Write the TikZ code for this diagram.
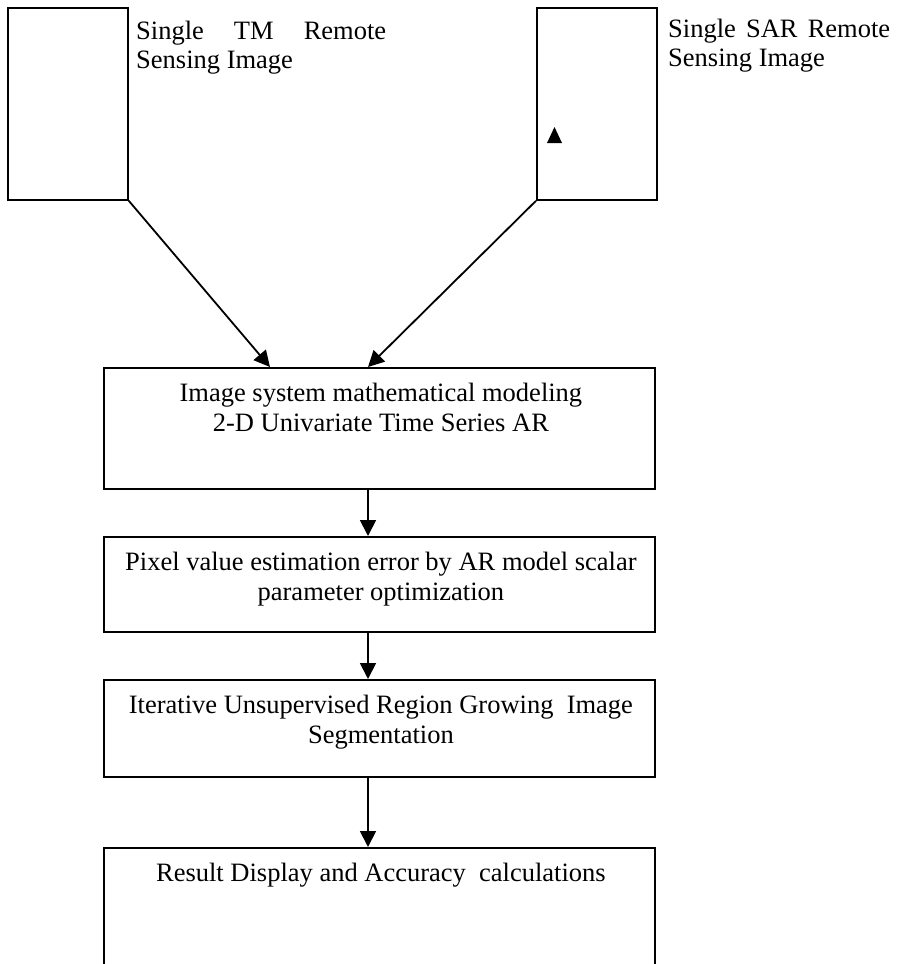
\documentclass[tikz,border=0pt]{standalone}
\usepackage{fontspec}
\setmainfont{Liberation Serif}
\usetikzlibrary{arrows.meta,calc}

\tikzset{
  box/.style={draw, line width=1.8pt, minimum width=#1, inner sep=0pt, anchor=north west},
  box/.default=551pt,
  srcbox/.style={draw, line width=1.8pt, minimum width=120pt, minimum height=192pt, inner sep=0pt, anchor=north west},
  lbl/.style={inner sep=0pt, anchor=north, align=center, font=\fontsize{26.5}{30}\selectfont},
  side/.style={inner sep=0pt, anchor=north west, align=left, font=\fontsize{26.5}{29}\selectfont},
  arr/.style={line width=1.8pt, -{Triangle[length=16pt,width=16pt]}},
}

\begin{document}
\begin{tikzpicture}[x=1pt,y=-1pt]
\useasboundingbox (0,0) rectangle (897,964);

% input images
\node[srcbox] (tm) at (7,7) {};
\node[srcbox] (sar) at (536,7) {};
\fill (547,143) -- (554.5,127) -- (562,143) -- cycle;

\node[side] (tmt) at (136,21) {\makebox[250pt][s]{Single\hfill TM\hfill Remote}\\Sensing Image};
\node[side] (sart) at (668,19) {\makebox[222pt][s]{Single\hfill SAR\hfill Remote}\\Sensing Image};

% processing chain
\node[box, minimum height=121pt] (b1) at (103,367) {};
\node[box, minimum height=95pt] (b2) at (103,536) {};
\node[box, minimum height=97pt] (b3) at (103,679) {};
\node[box, minimum height=200pt] (b4) at (103,847) {};

\node[lbl] (b1t) at ($(b1.north)+(1.5,16)$) {Image system mathematical modeling\\2-D Univariate Time Series AR};
\node[lbl] (b2t) at ($(b2.north)+(1.5,16)$) {Pixel value estimation error by AR model scalar\\parameter optimization};
\node[lbl] (b3t) at ($(b3.north)+(1.5,16)$) {Iterative Unsupervised Region Growing\ \ Image\\Segmentation};
\node[lbl] (b4t) at ($(b4.north)+(1.5,16)$) {Result Display and Accuracy\ \ calculations};

% connectors
\coordinate (axis) at (368,0);
\draw[arr] (tm.south east) -- ($(b1.north west)+(167,0)$);
\draw[arr] (sar.south west) -- (b1.north -| axis);
\draw[arr] (b1.south -| axis) -- (b2.north -| axis);
\draw[arr] (b2.south -| axis) -- (b3.north -| axis);
\draw[arr] (b3.south -| axis) -- (b4.north -| axis);
\end{tikzpicture}
\end{document}
